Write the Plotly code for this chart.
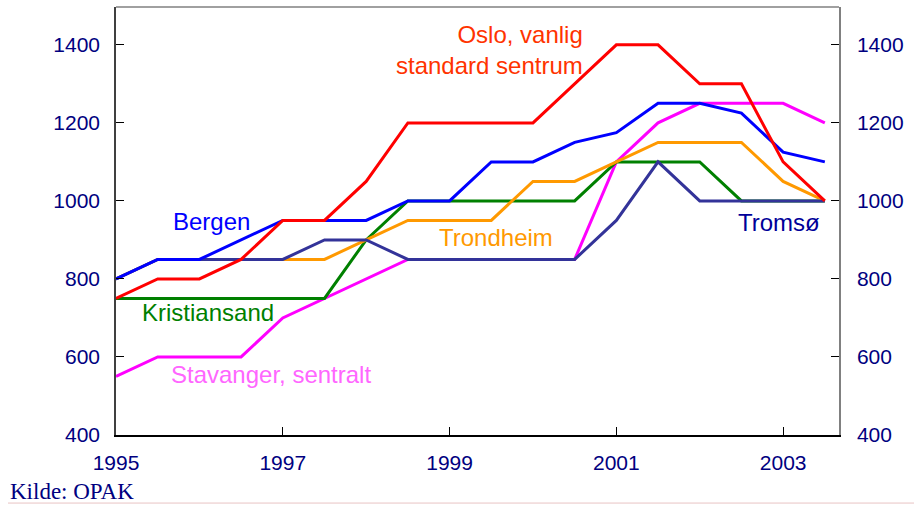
import plotly.graph_objects as go

years = [1995 + 0.5 * i for i in range(18)]

oslo = [750, 800, 800, 850, 950, 950, 1050, 1200, 1200, 1200, 1200, 1300, 1400, 1400, 1300, 1300, 1100, 1000]
bergen = [800, 850, 850, 900, 950, 950, 950, 1000, 1000, 1100, 1100, 1150, 1175, 1250, 1250, 1225, 1125, 1100]
kristiansand = [750, 750, 750, 750, 750, 750, 900, 1000, 1000, 1000, 1000, 1000, 1100, 1100, 1100, 1000, 1000, 1000]
trondheim = [800, 850, 850, 850, 850, 850, 900, 950, 950, 950, 1050, 1050, 1100, 1150, 1150, 1150, 1050, 1000]
stavanger = [550, 600, 600, 600, 700, 750, 800, 850, 850, 850, 850, 850, 1100, 1200, 1250, 1250, 1250, 1200]
tromso = [800, 850, 850, 850, 850, 900, 900, 850, 850, 850, 850, 850, 950, 1100, 1000, 1000, 1000, 1000]

y_ticks = [400, 600, 800, 1000, 1200, 1400]
x_ticks = [1995, 1997, 1999, 2001, 2003]

series = [
    ("Stavanger, sentralt", stavanger, "#FF00FF"),
    ("Kristiansand", kristiansand, "#008000"),
    ("Trondheim", trondheim, "#FF9900"),
    ("Tromsø", tromso, "#333399"),
    ("Bergen", bergen, "#0000FF"),
    ("Oslo, vanlig standard sentrum", oslo, "#FF0000"),
]

fig = go.Figure()
for name, vals, col in series:
    fig.add_trace(go.Scatter(x=years, y=vals, mode="lines", name=name,
                             line=dict(color=col, width=3), showlegend=False))
# invisible trace for the right axis
fig.add_trace(go.Scatter(x=years, y=oslo, yaxis="y2", mode="lines",
                         line=dict(width=0), opacity=0, showlegend=False, hoverinfo="skip"))

tickfont = dict(family="Liberation Sans, Arial", size=21, color="#000080")
lblfont = "Liberation Sans, Arial"

fig.update_layout(
    width=914, height=505,
    margin=dict(l=116, r=75, t=7, b=70),
    paper_bgcolor="white", plot_bgcolor="white",
    xaxis=dict(range=[1995, 2003.67], tickvals=x_ticks, ticktext=[str(v) for v in x_ticks],
               ticks="inside", ticklen=8, tickcolor="#000000", showgrid=False, zeroline=False,
               showline=True, linecolor="#000000", linewidth=1.5, tickfont=tickfont,
               ticklabelstandoff=8),
    yaxis=dict(range=[400, 1497], tickvals=y_ticks, ticks="inside", ticklen=8, tickcolor="#000000",
               showgrid=False, zeroline=False, showline=True, linecolor="#404040", linewidth=1.5,
               tickfont=tickfont, ticklabelstandoff=10),
    yaxis2=dict(range=[400, 1497], tickvals=y_ticks, ticks="inside", ticklen=8, tickcolor="#000000",
                showgrid=False, zeroline=False, showline=True, linecolor="#808080", linewidth=1.5,
                overlaying="y", side="right", tickfont=tickfont, ticklabelstandoff=12),
)

# top frame
fig.add_shape(type="line", xref="paper", yref="paper", x0=0, x1=1, y0=1, y1=1,
              line=dict(color="#808080", width=1.5))
# bottom separator
fig.add_shape(type="line", xref="paper", yref="paper", x0=(8 - 116) / 723, x1=(914 - 116) / 723,
              y0=-0.159, y1=-0.159, line=dict(color="#E8C4C4", width=1))

ann = [
    ("Oslo, vanlig<br>standard sentrum", 2000.62, 1387, "right", "#FF3300"),
    ("Bergen", 1995.66, 946, "left", "#0000FF"),
    ("Trondheim", 1998.85, 905, "left", "#FF9900"),
    ("Tromsø", 2003.47, 944, "right", "#000099"),
    ("Kristiansand", 1995.29, 713, "left", "#008000"),
    ("Stavanger, sentralt", 1995.64, 554, "left", "#FF66FF"),
]
for txt, x, y, anc, col in ann:
    fig.add_annotation(x=x, y=y, text=txt, showarrow=False, xanchor=anc, yanchor="middle",
                       align=anc, font=dict(family=lblfont, size=24, color=col))

fig.add_annotation(x=(8 - 116) / 723, y=(435 - 491) / 428, xref="paper", yref="paper",
                   text="Kilde: OPAK", showarrow=False, xanchor="left", yanchor="middle",
                   font=dict(family="Liberation Serif, Times New Roman", size=23, color="#000080"))

fig.write_html("out.html", config={"displayModeBar": False},
               post_script="document.body.style.margin='0';document.body.style.overflow='hidden';")
